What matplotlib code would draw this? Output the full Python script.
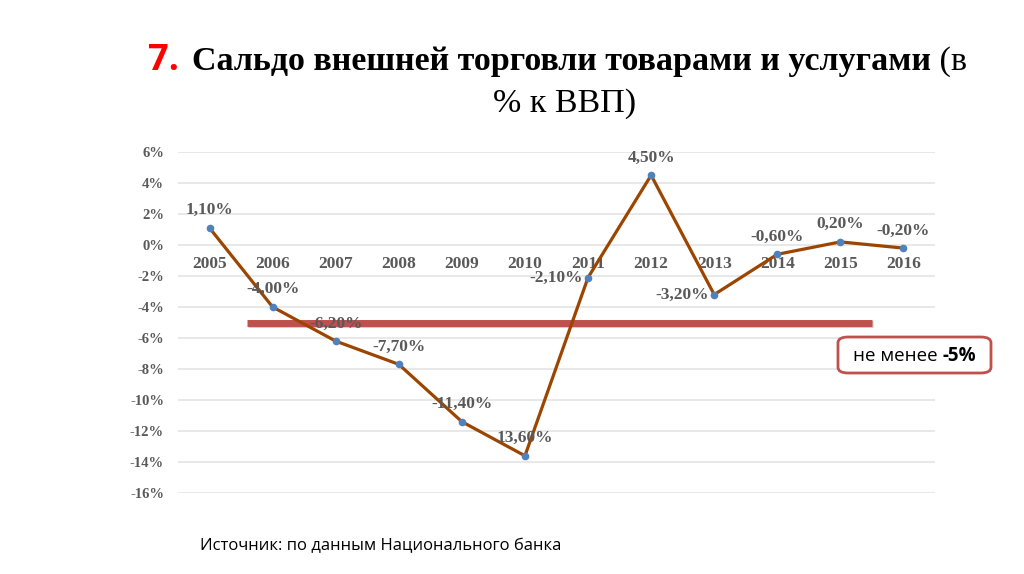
import matplotlib
matplotlib.use('Agg')
import matplotlib.pyplot as plt
from matplotlib.patches import FancyBboxPatch
import matplotlib.patheffects as pe

years = ['2005', '2006', '2007', '2008', '2009', '2010',
         '2011', '2012', '2013', '2014', '2015', '2016']
saldo = [1.10, -4.00, -6.20, -7.70, -11.40, -13.60,
         -2.10, 4.50, -3.20, -0.60, 0.20, -0.20]
labels = ['1,10%', '-4,00%', '-6,20%', '-7,70%', '-11,40%', '13,60%',
          '-2,10%', '4,50%', '-3,20%', '-0,60%', '0,20%', '-0,20%']
# where the value label sits: 'up' or 'left'
label_pos = ['up', 'up', 'up', 'up', 'up', 'up',
             'left', 'up', 'left', 'up', 'up', 'up']
yticks = [6, 4, 2, 0, -2, -4, -6, -8, -10, -12, -14, -16]
threshold = -5

serif = ['Liberation Serif', 'DejaVu Serif']
sans = ['Open Sans', 'DejaVu Sans']
grey = '#595959'

fig = plt.figure(figsize=(10.24, 5.74), dpi=100)
ax = fig.add_axes([178 / 1024, 81 / 574, 757 / 1024, 341 / 574])
ax.patch.set_visible(False)

x = list(range(len(years)))
ax.set_xlim(-0.5, len(years) - 0.5)
ax.set_ylim(-16, 6)
# category axis crosses at 0 (must come before tick label styling)
ax.spines['bottom'].set_position(('data', 0))

# grid lines
for t in yticks:
    ax.axhline(t, color='#E4E4E4', lw=1.2, zorder=0)

# threshold bar
ax.plot([0.59, 10.5], [threshold, threshold], color='#C0504D', lw=5,
        solid_capstyle='butt', zorder=2,
        path_effects=[pe.SimpleLineShadow(offset=(0.8, -1.2), alpha=0.2),
                      pe.Normal()])

# main series
ax.plot(x, saldo, color='#9C4500', lw=2.3, zorder=3)
ax.plot(x, saldo, 'o', color='#4F81BD', ms=4.5, zorder=4)

for xi, v, lab, pos in zip(x, saldo, labels, label_pos):
    if pos == 'up':
        ax.annotate(lab, (xi, v), xytext=(0, 7), textcoords='offset points',
                    ha='center', va='bottom', fontsize=12.5, fontweight='bold',
                    color=grey, family=serif, zorder=5)
    else:
        ax.annotate(lab, (xi, v), xytext=(-4, 0), textcoords='offset points',
                    ha='right', va='center', fontsize=12.5, fontweight='bold',
                    color=grey, family=serif, zorder=5)

ax.set_yticks(yticks)
ax.set_yticklabels([f'{t}%' for t in yticks], family=serif,
                   fontweight='bold', fontsize=10.5, color=grey)
ax.set_xticks(x)
ax.set_xticklabels(years, family=serif, fontweight='bold', fontsize=12.5,
                   color=grey)
for s in ['top', 'right', 'left', 'bottom']:
    ax.spines[s].set_visible(False)
ax.tick_params(axis='both', length=0)
ax.tick_params(axis='x', pad=8)
ax.tick_params(axis='y', pad=10)

# title
fig.text(148 / 1024, 1 - 70 / 574, '7.', color='#FF0000',
         fontsize=26, fontweight='bold', family=sans,
         va='baseline', ha='left')
t2 = fig.text(192 / 1024, 1 - 70 / 574,
              'Сальдо внешней торговли товарами и услугами',
              fontsize=24.5, fontweight='bold', family=serif, color='black',
              va='baseline', ha='left')
fig.text(565 / 1024, 1 - 112 / 574, '% к ВВП)', fontsize=24.5, family=serif,
         color='black', ha='center', va='baseline')

# threshold note box
box = FancyBboxPatch((838 / 1024, 1 - 373 / 574), 153 / 1024, 36 / 574,
                     boxstyle='round,pad=0,rounding_size=0.01',
                     transform=fig.transFigure, facecolor='white',
                     edgecolor='#C0504D', lw=2, zorder=2)
fig.add_artist(box)
n1 = fig.text(853 / 1024, 1 - 361 / 574, 'не менее ', fontsize=13.5,
              family=sans, color='black', va='baseline', ha='left', zorder=4)

fig.text(200 / 1024, 1 - 546 / 574, 'Источник: по данным Национального банка',
         fontsize=12, family=sans, color='black', va='center', ha='left')

# continue mixed-weight lines on the same baseline
fig.canvas.draw()
r = fig.canvas.get_renderer()
e2 = t2.get_window_extent(r)
fig.text(e2.x1 / fig.bbox.width, 1 - 70 / 574, ' (в', fontsize=24.5,
         family=serif, color='black', va='baseline', ha='left')
e1 = n1.get_window_extent(r)
fig.text(e1.x1 / fig.bbox.width, 1 - 361 / 574, '-5%', fontsize=13.5,
         fontweight='bold', family=sans, color='black', va='baseline',
         ha='left', zorder=4)

fig.savefig('out.png', dpi=100, facecolor='white')
